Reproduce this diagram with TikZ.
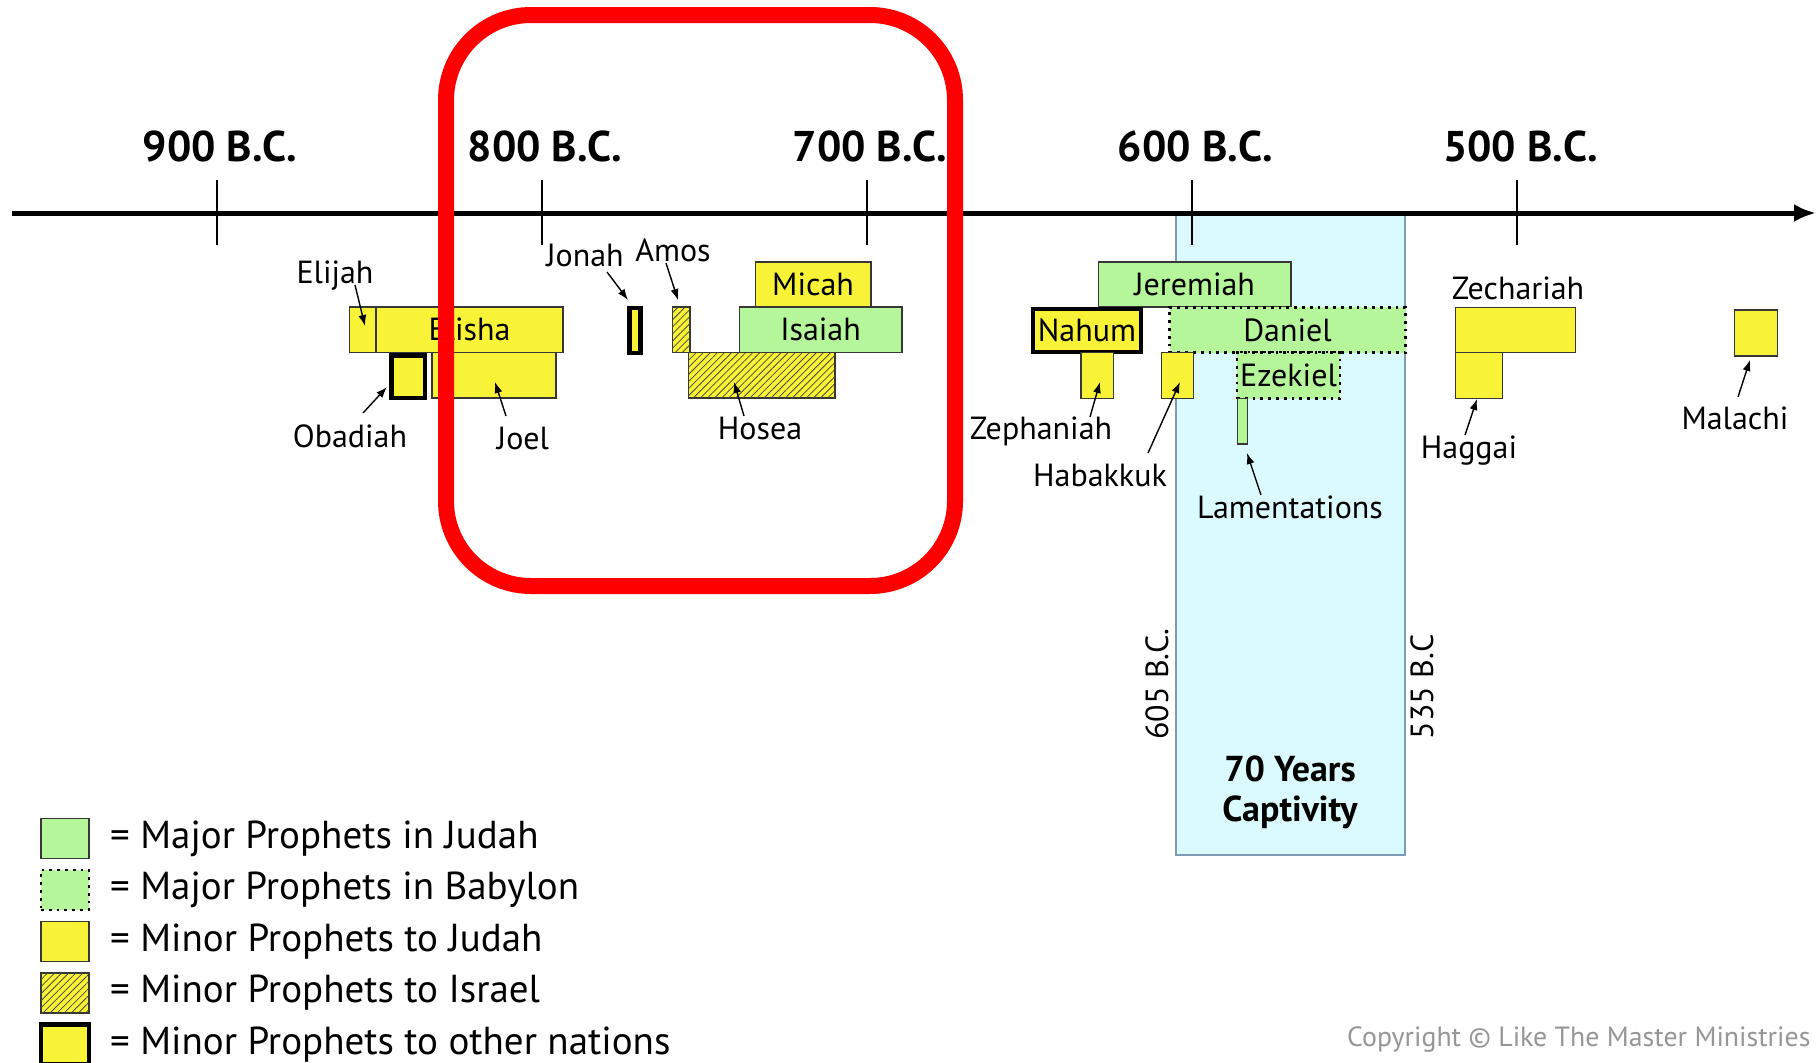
\documentclass[tikz,border=0pt]{standalone}
\usepackage{fontspec}
\setmainfont{PT Sans}
\usetikzlibrary{arrows.meta,patterns.meta}

\definecolor{minoryellow}{RGB}{249,243,56}
\definecolor{majorgreen}{RGB}{180,246,153}
\definecolor{exilecyan}{RGB}{219,250,253}
\definecolor{exileedge}{RGB}{125,155,180}
\definecolor{hatchgray}{RGB}{70,70,50}
\definecolor{boxedge}{RGB}{55,55,55}
\definecolor{notegray}{RGB}{150,150,150}

\begin{document}
\begin{tikzpicture}[x=1pt,y=-1pt,
  period/.style={draw=boxedge,line width=1.4pt,inner sep=0pt,outer sep=0pt,anchor=north west,font=\fontsize{32}{38}\selectfont},
  judah/.style={period,fill=minoryellow},
  israel/.style={judah,postaction={pattern={Lines[angle=45,distance=5pt,line width=0.8pt]},pattern color=hatchgray}},
  nations/.style={judah,draw=black,line width=4.5pt},
  major/.style={period,fill=majorgreen},
  exile/.style={major,draw=black,line width=2.8pt,dash pattern=on 2.8pt off 5pt},
  tag/.style={font=\fontsize{32}{38}\selectfont,inner sep=0pt},
  pointer/.style={-{Latex[length=11pt,width=8pt]},line width=1.4pt},
  year/.style={font=\bfseries\fontsize{43}{50}\selectfont,anchor=base,inner sep=0pt},
  key/.style={font=\fontsize{39}{46}\selectfont,anchor=west,inner sep=0pt}]

\useasboundingbox (0,0) rectangle (1816,1063);

% the seventy years
\node[draw=exileedge,fill=exilecyan,line width=1.2pt,inner sep=0pt,outer sep=0pt,anchor=north west,
      minimum width=229pt,minimum height=641pt] (captivity) at (1176,214) {};
\node[tag,rotate=90] (startYr) at (1157,684) {605 B.C.};
\node[tag,rotate=90] (endYr) at (1422,687) {535 B.C};
\node[align=center,font=\bfseries\fontsize{36}{40}\selectfont] (captTxt) at (1290,792) {70 Years\\Captivity};

% time line
\coordinate (tlStart) at (12,213);
\coordinate (tlEnd) at (1816,213);
\draw[line width=5pt,-{Latex[length=22pt,width=18pt]}] (tlStart) -- (tlEnd);
\foreach \yr [count=\i from 0] in {900,800,700,600,500}{
  \draw[line width=2pt] (216.6+325.1*\i,180) -- ++(0,65);
  \node[year] (yr\yr) at (220+325.1*\i,161) {\yr{} B.C.};
}

% prophets
\node[judah,minimum width=26.5pt,minimum height=45.5pt] (elijah) at (349.5,307) {};
\node[judah,minimum width=187pt,minimum height=45.5pt] (elisha) at (376,307) {Elisha};
\node[nations,minimum width=33.5pt,minimum height=42.5pt] (obadiah) at (391.5,355.5) {};
\node[judah,minimum width=124pt,minimum height=45.5pt] (joel) at (432,352.5) {};
\node[nations,minimum width=11pt,minimum height=45pt] (jonah) at (629.5,308) {};
\node[israel,minimum width=17.5pt,minimum height=45.5pt] (amos) at (672.5,307) {};
\node[israel,minimum width=146.5pt,minimum height=45.5pt] (hosea) at (688.5,352.5) {};
\node[judah,minimum width=115.5pt,minimum height=45pt] (micah) at (755.3,262) {Micah};
\node[major,minimum width=162.5pt,minimum height=45.5pt] (isaiah) at (739.3,307) {Isaiah};
\node[major,minimum width=192.7pt,minimum height=45pt] (jeremiah) at (1098.3,262) {Jeremiah};
\node[nations,minimum width=108pt,minimum height=43pt] (nahum) at (1033,309) {Nahum};
\node[exile,minimum width=236pt,minimum height=45.5pt] (daniel) at (1169.5,307.3) {Daniel};
\node[judah,minimum width=32.3pt,minimum height=45.6pt] (zephaniah) at (1081,352.7) {};
\node[judah,minimum width=31.6pt,minimum height=45.6pt] (habakkuk) at (1161.7,352.7) {};
\node[exile,minimum width=103pt,minimum height=46pt] (ezekiel) at (1237,352.7) {Ezekiel};
\node[major,minimum width=10pt,minimum height=45.7pt] (lamentations) at (1237.3,398.3) {};
\node[judah,minimum width=120pt,minimum height=45.4pt] (zechariah) at (1455.5,307.3) {};
\node[judah,minimum width=46.8pt,minimum height=45.6pt] (haggai) at (1455.5,352.7) {};
\node[judah,minimum width=43.4pt,minimum height=46pt] (malachi) at (1734.3,310) {};

% names
\node[tag] (elijahLbl) at (335,276) {Elijah};
\node[tag] (obadiahLbl) at (350,436) {Obadiah};
\node[tag] (joelLbl) at (523,438) {Joel};
\node[tag] (jonahLbl) at (585,255) {Jonah};
\node[tag] (amosLbl) at (673,250) {Amos};
\node[tag] (hoseaLbl) at (760,428) {Hosea};
\node[tag] (zephaniahLbl) at (1041,431) {Zephaniah};
\node[tag] (habakkukLbl) at (1100,475) {Habakkuk};
\node[tag] (lamentationsLbl) at (1290,507) {Lamentations};
\node[tag] (zechariahLbl) at (1518,288) {Zechariah};
\node[tag] (haggaiLbl) at (1469,451) {Haggai};
\node[tag] (malachiLbl) at (1735,418) {Malachi};

% pointers
\coordinate (elijahFoot) at (355,285);  \coordinate (elijahTip) at (365,326);
\coordinate (obadiahFoot) at (363,413); \coordinate (obadiahTip) at (387,387);
\coordinate (joelFoot) at (506,416);    \coordinate (joelTip) at (495,382);
\coordinate (jonahFoot) at (607,272);   \coordinate (jonahTip) at (628,300);
\coordinate (amosFoot) at (666,263);    \coordinate (amosTip) at (678,300);
\coordinate (hoseaFoot) at (744,416);   \coordinate (hoseaTip) at (734,382);
\coordinate (zephaniahFoot) at (1090,417); \coordinate (zephaniahTip) at (1100,382);
\coordinate (habakkukFoot) at (1148,453);  \coordinate (habakkukTip) at (1180,382);
\coordinate (lamentationsFoot) at (1261,495); \coordinate (lamentationsTip) at (1247,453);
\coordinate (haggaiFoot) at (1465,435); \coordinate (haggaiTip) at (1477,399);
\coordinate (malachiFoot) at (1738,397); \coordinate (malachiTip) at (1750,360);
\foreach \who in {elijah,obadiah,joel,jonah,amos,hosea,zephaniah,habakkuk,lamentations,haggai,malachi}
  \draw[pointer] (\who Foot) -- (\who Tip);

% legend
\foreach \kind/\txt [count=\i from 0] in {major/Major Prophets in Judah,exile/Major Prophets in Babylon,
    judah/Minor Prophets to Judah,israel/Minor Prophets to Israel,nations/Minor Prophets to other nations}{
  \node[\kind,anchor=west,minimum width=48pt,minimum height=40pt] (key\i) at (41,838.5+51.5*\i) {};
  \node[key] (keyTxt\i) at (110,838.5+51.5*\i) {= \txt};
}

\node[anchor=west,inner sep=0pt,text=notegray,font=\fontsize{27.8}{33}\selectfont] (copyNote) at (1347,1040)
  {Copyright \textcopyright{} Like The Master Ministries};

% focus frame
\draw[red,line width=16pt,rounded corners=85pt] (446,15) rectangle (955,586);
\end{tikzpicture}
\end{document}
